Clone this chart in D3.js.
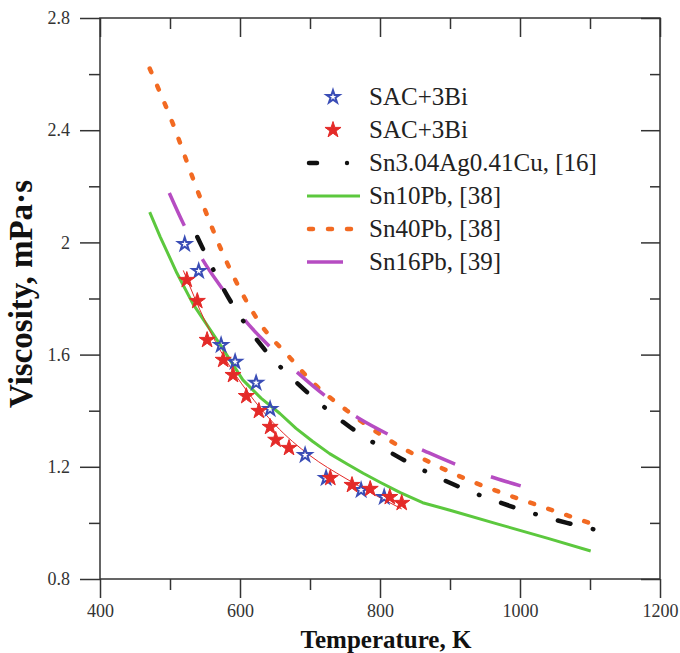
<!DOCTYPE html>
<html><head><meta charset="utf-8">
<script src="https://cdn.jsdelivr.net/npm/d3@7"></script>
<style>body{margin:0;background:#fff;} svg{display:block;}</style>
</head><body>
<svg id="c" width="680" height="653"></svg>
<script>
// ---- data ----
const xTicks = [400, 600, 800, 1000, 1200];
const xMinor = [500, 700, 900, 1100];
const yTicks = [0.8, 1.2, 1.6, 2.0, 2.4, 2.8];
const yTickLabels = ["0.8", "1.2", "1.6", "2", "2.4", "2.8"];
const yMinor = [1.0, 1.4, 1.8, 2.2, 2.6];

const blueT = [521, 541, 573, 593, 623, 643, 693, 723, 773, 806];
const blueV = [1.994, 1.898, 1.634, 1.574, 1.499, 1.406, 1.242, 1.16, 1.117, 1.092];

const redT = [524, 539, 553, 576, 590, 609, 627, 643, 651, 670, 729, 760, 786, 814, 831];
const redV = [1.866, 1.791, 1.652, 1.581, 1.527, 1.452, 1.399, 1.342, 1.296, 1.267, 1.16, 1.135, 1.121, 1.092, 1.071];

const fitT = [519, 550, 580, 610, 650, 700, 750, 800, 831];
const fitV = [1.90, 1.72, 1.58, 1.47, 1.35, 1.24, 1.16, 1.09, 1.05];

const agcuT = [539, 583, 631, 691, 757, 829, 907, 986, 1067, 1109];
const agcuV = [2.019, 1.805, 1.631, 1.477, 1.342, 1.231, 1.135, 1.060, 1.000, 0.975];

const pb10T = [471, 486, 510, 533, 573, 604, 630, 657, 680, 704, 728, 753, 776, 800, 829, 861, 900, 971, 1040, 1101];
const pb10V = [2.108, 2.02, 1.89, 1.78, 1.63, 1.51, 1.445, 1.39, 1.337, 1.29, 1.247, 1.21, 1.177, 1.145, 1.108, 1.072, 1.045, 0.994, 0.945, 0.90];

const pb40T = [471, 503, 540, 581, 629, 671, 700, 753, 810, 876, 929, 971, 1029, 1099];
const pb40V = [2.62, 2.43, 2.18, 1.93, 1.71, 1.59, 1.51, 1.40, 1.30, 1.21, 1.15, 1.11, 1.06, 1.00];

const pb16T = [499, 520, 547, 574, 607, 643, 683, 724, 769, 814, 864, 911, 964, 1001];
const pb16V = [2.176, 2.062, 1.937, 1.837, 1.723, 1.627, 1.534, 1.449, 1.374, 1.313, 1.256, 1.206, 1.16, 1.132];

const legendLabels = ["SAC+3Bi", "SAC+3Bi", "Sn3.04Ag0.41Cu, [16]", "Sn10Pb, [38]", "Sn40Pb, [38]", "Sn16Pb, [39]"];

// ---- chart ----
const svg = d3.select("#c");
const x = d3.scaleLinear().domain([400, 1200]).range([100, 660]);
const y = d3.scaleLinear().domain([0.8, 2.8]).range([579, 18]);
const axisCol = "#333";
const serif = "'Liberation Serif','Times New Roman',serif";

function styleAxis(g) {
  g.select(".domain").remove();
  g.selectAll(".tick line").attr("stroke", axisCol).attr("stroke-width", 1.5);
  g.selectAll(".tick text").attr("fill", "#333").attr("font-family", serif).attr("font-size", 18);
}
// bottom
svg.append("g").attr("transform", "translate(0,579)")
  .call(d3.axisBottom(x).tickValues(xTicks).tickSize(19).tickPadding(6).tickFormat(d3.format("d")))
  .call(styleAxis);
svg.append("g").attr("transform", "translate(0,579)")
  .call(d3.axisBottom(x).tickValues(xMinor).tickSize(11).tickFormat(""))
  .call(styleAxis);
// top (inward)
svg.append("g").attr("transform", "translate(0,18)")
  .call(d3.axisBottom(x).tickValues(xTicks).tickSize(19).tickFormat(""))
  .call(styleAxis);
svg.append("g").attr("transform", "translate(0,18)")
  .call(d3.axisBottom(x).tickValues(xMinor).tickSize(11).tickFormat(""))
  .call(styleAxis);
// left
svg.append("g").attr("transform", "translate(100,0)")
  .call(d3.axisLeft(y).tickValues(yTicks).tickSize(20).tickPadding(10).tickFormat((d, i) => yTickLabels[i]))
  .call(styleAxis);
svg.append("g").attr("transform", "translate(100,0)")
  .call(d3.axisLeft(y).tickValues(yMinor).tickSize(11).tickFormat(""))
  .call(styleAxis);
// right (inward)
svg.append("g").attr("transform", "translate(660,0)")
  .call(d3.axisLeft(y).tickValues(yTicks).tickSize(19).tickFormat(""))
  .call(styleAxis);
svg.append("g").attr("transform", "translate(660,0)")
  .call(d3.axisLeft(y).tickValues(yMinor).tickSize(10).tickFormat(""))
  .call(styleAxis);
// frame
svg.append("rect").attr("x", x(400)).attr("y", y(2.8))
  .attr("width", x(1200) - x(400)).attr("height", y(0.8) - y(2.8))
  .attr("fill", "none").attr("stroke", axisCol).attr("stroke-width", 1.5);

// lines
const line = d3.line().x(d => x(d[0])).y(d => y(d[1])).curve(d3.curveMonotoneX);
const lineLin = d3.line().x(d => x(d[0])).y(d => y(d[1]));
const zip = (a, b) => a.map((v, i) => [v, b[i]]);

const cGreen = "#5cc83e", cOrange = "#f26a22", cPurple = "#b64cc2", cBlack = "#111", cBlue = "#3a4db6", cRed = "#e42a28";

svg.append("path").attr("d", lineLin(zip(pb10T, pb10V))).attr("fill", "none")
  .attr("stroke", cGreen).attr("stroke-width", 3).attr("stroke-linejoin", "round");
svg.append("path").attr("d", line(zip(pb40T, pb40V))).attr("fill", "none")
  .attr("stroke", cOrange).attr("stroke-width", 4.5).attr("stroke-linecap", "round")
  .attr("stroke-dasharray", "4,15");
svg.append("path").attr("d", line(zip(pb16T, pb16V))).attr("fill", "none")
  .attr("stroke", cPurple).attr("stroke-width", 3.5).attr("stroke-dasharray", "36,38");
svg.append("path").attr("d", line(zip(agcuT, agcuV))).attr("fill", "none")
  .attr("stroke", cBlack).attr("stroke-width", 4.5).attr("stroke-linecap", "round")
  .attr("stroke-dasharray", "13,23,0.5,23");
svg.append("path").attr("d", line(zip(fitT, fitV))).attr("fill", "none")
  .attr("stroke", cRed).attr("stroke-width", 1);

const star = d3.symbol().type(d3.symbolStar);
svg.append("g").selectAll("path").data(zip(blueT, blueV)).join("path")
  .attr("transform", d => `translate(${x(d[0])},${y(d[1])})`)
  .attr("d", star.size(52)).attr("fill", "none").attr("stroke", cBlue).attr("stroke-width", 2);
svg.append("g").selectAll("path").data(zip(redT, redV)).join("path")
  .attr("transform", d => `translate(${x(d[0])},${y(d[1])})`)
  .attr("d", star.size(80)).attr("fill", cRed).attr("stroke", cRed).attr("stroke-width", 1);

// legend
const lg = svg.append("g");
const ly = [97, 130, 163, 196, 229, 262];
lg.append("path").attr("transform", `translate(333,${ly[0]})`).attr("d", star.size(52))
  .attr("fill", "none").attr("stroke", cBlue).attr("stroke-width", 2);
lg.append("path").attr("transform", `translate(333,${ly[1]})`).attr("d", star.size(80))
  .attr("fill", cRed).attr("stroke", cRed).attr("stroke-width", 1);
lg.append("line").attr("x1", 309).attr("x2", 317).attr("y1", ly[2]).attr("y2", ly[2])
  .attr("stroke", cBlack).attr("stroke-width", 4.5).attr("stroke-linecap", "round");
lg.append("circle").attr("cx", 347).attr("cy", ly[2]).attr("r", 2.2).attr("fill", cBlack);
lg.append("line").attr("x1", 307).attr("x2", 360).attr("y1", ly[3]).attr("y2", ly[3])
  .attr("stroke", cGreen).attr("stroke-width", 3);
lg.append("line").attr("x1", 309).attr("x2", 352).attr("y1", ly[4]).attr("y2", ly[4])
  .attr("stroke", cOrange).attr("stroke-width", 4.5).attr("stroke-linecap", "round").attr("stroke-dasharray", "4,15");
lg.append("line").attr("x1", 307).attr("x2", 343).attr("y1", ly[5]).attr("y2", ly[5])
  .attr("stroke", cPurple).attr("stroke-width", 3.5);
lg.selectAll("text").data(legendLabels).join("text")
  .attr("x", 369).attr("y", (d, i) => ly[i] + 8)
  .attr("font-family", serif).attr("font-size", 25).attr("fill", "#222").text(d => d);

// axis titles
svg.append("text").attr("x", 386).attr("y", 648).attr("text-anchor", "middle")
  .attr("font-family", serif).attr("font-weight", "bold").attr("font-size", 25).attr("fill", "#111")
  .text("Temperature, K");
svg.append("text").attr("transform", "translate(32,294) rotate(-90)").attr("text-anchor", "middle")
  .attr("font-family", serif).attr("font-weight", "bold").attr("font-size", 33).attr("fill", "#111")
  .text("Viscosity, mPa·s");
</script>
</body></html>
